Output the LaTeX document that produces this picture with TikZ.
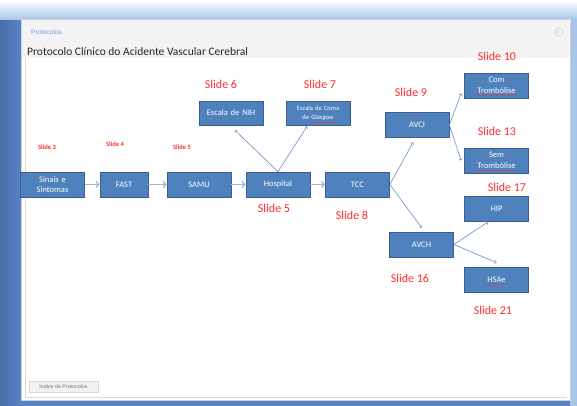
\documentclass[tikz,border=0pt]{standalone}
\usepackage{fontspec}
\setmainfont{Carlito}
\newfontfamily\arialfont{Liberation Sans}
\usetikzlibrary{shapes,arrows,decorations.pathmorphing}
\definecolor{boxfill}{HTML}{4F81BD}
\definecolor{boxdraw}{HTML}{3A5F8F}
\definecolor{slidered}{HTML}{FF2B2B}
\definecolor{arrowblue}{HTML}{648FCB}
\definecolor{arrowlight}{HTML}{9AB8DE}
\definecolor{deskdark}{HTML}{5683C6}
\definecolor{desklight}{HTML}{A7C4EA}
\definecolor{headgray}{HTML}{F3F3F3}
\definecolor{linkblue}{HTML}{6C9BD2}
\tikzstyle{line} = [draw=arrowblue, line width=0.6pt, -to]
\tikzstyle{line_h} = [draw=arrowlight, line width=1.5pt, -to]
\tikzstyle{box} = [rectangle, draw=boxdraw, line width=0.8pt, fill=boxfill, text=white, minimum width=64pt, minimum height=25pt, text width=56pt, text centered, inner sep=2pt, font=\fontsize{8.5}{10.5}\selectfont]
\tikzstyle{box_small} = [box, minimum height=24pt, font=\fontsize{6.5}{9}\selectfont]
\tikzstyle{slide} = [text=slidered, inner sep=0pt, font=\fontsize{12}{12}\selectfont]
\tikzstyle{slide_small} = [text=slidered, inner sep=0pt, font=\fontsize{6.5}{6.5}\selectfont\bfseries]
\tikzstyle{spell} = [draw=red!80, line width=0.25pt, decorate, decoration={snake, amplitude=0.35pt, segment length=1.6pt}]

\begin{document}
\begin{tikzpicture}[x=1pt, y=-1pt]
\useasboundingbox (0,0) rectangle (577,406);
\fill [deskdark] (0,0) rectangle (577,406);
\shade [left color=deskdark!85!black, right color=deskdark] (0,20) rectangle (21,406);
\shade [top color=white, bottom color=desklight] (0,0) rectangle (577,20);
\fill [desklight] (570,20) rectangle (577,406);
\draw [black!18, fill=white] (21,19) rectangle (570,400);
\fill [headgray] (22,20) rectangle (569,58);
\draw [black!15] (25,58) -- (25,397) -- (567,397);
\node [anchor=west, inner sep=0pt, text=linkblue, font=\arialfont\fontsize{6.5}{6.5}\selectfont] (win) at (31,32) {Protocolos};
\node [draw=desklight, circle, inner sep=0pt, minimum size=8pt, text=desklight, font=\arialfont\fontsize{6}{6}\selectfont] (close) at (559,32) {$\times$};
\node [anchor=west, inner sep=0pt, text=black!85, font=\fontsize{11.5}{11.5}\selectfont] (title) at (27,52) {Protocolo Clínico do Acidente Vascular Cerebral};
\node [draw=black!15, fill=black!5, minimum width=69pt, minimum height=11pt, inner sep=0pt, text=black!55, font=\arialfont\fontsize{5.3}{5.3}\selectfont] (index) at (63.5,386.5) {Indice de Protocolos};

\node [box] (sinais) at (52.5,184.5) {Sinais e\\Sintomas};
\node [box, right of = sinais, node distance = 71.5pt, minimum width=48pt, text width=42pt] (fast) {FAST};
\node [box, right of = fast, node distance = 75pt] (samu) {SAMU};
\node [box, right of = samu, node distance = 79pt] (hosp) {Hospital};
\node [box, right of = hosp, node distance = 79.5pt] (tcc) {TCC};
\path [line_h] (sinais.east) to (fast.west);
\path [line_h] (fast.east) to (samu.west);
\path [line_h] (samu.east) to (hosp.west);
\path [line_h] (hosp.east) to (tcc.west);

\node [box_small, above of = hosp, node distance = 71.5pt, xshift=-47pt, font=\fontsize{8.5}{10.5}\selectfont] (nih) {Escala de NIH};
\node [box_small, above of = hosp, node distance = 71.5pt, xshift=40pt, text width=52pt] (glasgow) {Escala de Coma\\de Glasgow};
\path [line] (hosp.north) to ([xshift=4pt, yshift=-5pt]nih.south);
\path [line] (hosp.north) to ([xshift=-11pt, yshift=-1pt]glasgow.south);

\node [box, above of = tcc, node distance = 59.5pt, xshift=59.5pt] (avci) {AVCI};
\node [box, below of = tcc, node distance = 60pt, xshift=64pt] (avch) {AVCH};
\path [line] (tcc.east) to ([xshift=-4pt, yshift=-4.5pt]avci.south);
\path [line] (tcc.east) to ([yshift=4pt]avch.north);

\node [box, right of = avci, node distance = 79.5pt, yshift=39.5pt] (com) {Com\\Trombólise};
\node [box, right of = avci, node distance = 79.5pt, yshift=-35.5pt] (sem) {Sem\\Trombólise};
\path [line] (avci.east) to ([xshift=-3pt, yshift=5pt]com.south west);
\path [line] (avci.east) to ([xshift=-3pt]sem.west);

\node [box, right of = avch, node distance = 75pt, yshift=35.5pt] (hip) {HIP};
\node [box, right of = avch, node distance = 75pt, yshift=-35pt] (hsae) {HSAe};
\path [line] (avch.east) to ([xshift=-8.5pt]hip.south);
\path [line] (avch.east) to ([yshift=4pt]hsae.north);

\path [spell] ([xshift=-7pt, yshift=3pt]glasgow.south) to ([xshift=17pt, yshift=3pt]glasgow.south);
\path [spell] ([xshift=-19.5pt, yshift=3pt]com.south) to ([xshift=19.5pt, yshift=3pt]com.south);
\path [spell] ([xshift=-19.5pt, yshift=3pt]sem.south) to ([xshift=19.5pt, yshift=3pt]sem.south);
\path [spell] ([xshift=-9.5pt, yshift=8pt]hsae.south) to ([xshift=8.5pt, yshift=8pt]hsae.south);

\node [slide_small, above of = sinais, node distance = 37.5pt, xshift=-5.5pt] (s3) {Slide 3};
\node [slide_small, above of = fast, node distance = 40.5pt, xshift=-9pt] (s4) {Slide 4};
\node [slide_small, above of = samu, node distance = 37.5pt, xshift=-17pt] (s5a) {Slide 5};
\node [slide, below of = hosp, node distance = 23.5pt, xshift=-4pt] (s5) {Slide 5};
\node [slide, above of = nih, node distance = 29pt, xshift=-10pt] (s6) {Slide 6};
\node [slide, above of = glasgow, node distance = 29pt, xshift=2pt] (s7) {Slide 7};
\node [slide, below of = tcc, node distance = 30.5pt, xshift=-5.5pt] (s8) {Slide 8};
\node [slide, above of = avci, node distance = 33pt, xshift=-6pt] (s9) {Slide 9};
\node [slide, above of = com, node distance = 29.5pt, xshift=0.5pt] (s10) {Slide 10};
\node [slide, above of = sem, node distance = 29.5pt, xshift=0.5pt] (s13) {Slide 13};
\node [slide, above of = hip, node distance = 22pt, xshift=10.5pt] (s17) {Slide 17};
\node [slide, below of = avch, node distance = 33.5pt, xshift=-11.5pt] (s16) {Slide 16};
\node [slide, below of = hsae, node distance = 30.5pt, xshift=-3.5pt] (s21) {Slide 21};
\end{tikzpicture}
\end{document}
